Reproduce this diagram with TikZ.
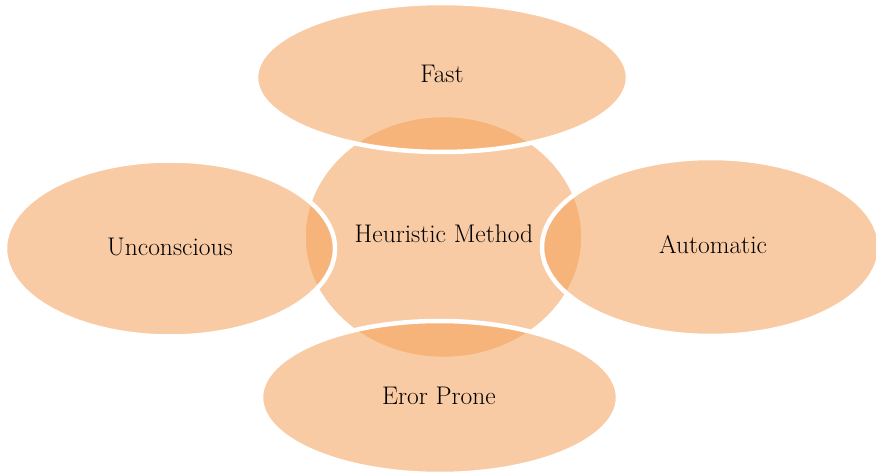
\documentclass[tikz,border=0pt]{standalone}
\usepackage{fontspec}
\definecolor{blobc}{HTML}{F49F56}
\tikzset{
  blob/.style={fill=blobc, fill opacity=0.54, draw=white, draw opacity=1, line width=4.5pt},
  lbl/.style={inner sep=0pt, font=\fontsize{25.5}{30}\selectfont, text=black, anchor=base}
}
\begin{document}
\begin{tikzpicture}[x=1pt,y=-1pt]
\useasboundingbox (0,0) rectangle (876,473);
% central circle
\path[blob] (443.5,237) ellipse (140 and 122);
% outer ellipses
\path[blob] (442,77.5) ellipse (186 and 74.5);
\path[blob] (170,248.5) ellipse (165 and 88);
\path[blob] (711,247) ellipse (169 and 89);
\path[blob] (439.5,397.5) ellipse (178.5 and 76.5);
% labels
\node[lbl] (center) at (444,243) {Heuristic Method};
\node[lbl] (fast) at (442,83) {Fast};
\node[lbl] (uncon) at (170,256) {Unconscious};
\node[lbl] (auto) at (713,254) {Automatic};
\node[lbl] (eror) at (439,404) {Eror Prone};
\end{tikzpicture}
\end{document}
